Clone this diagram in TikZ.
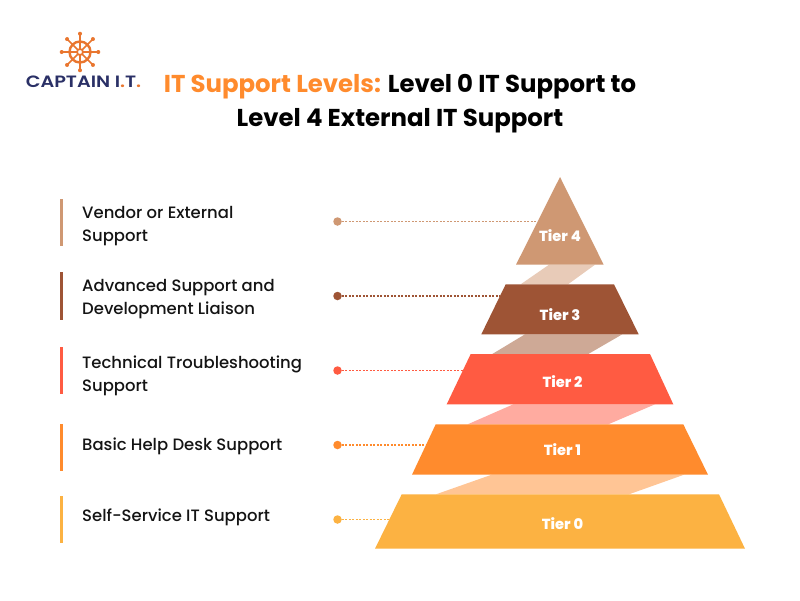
\documentclass[tikz,border=0pt]{standalone}
\usepackage{fontspec}
\setmainfont{Poppins}
\newfontfamily\pmed{Poppins Medium}
\newfontfamily\pbold{Poppins}[UprightFont=*-Bold]
\newfontfamily\pxbold{Poppins ExtraBold}
\newfontfamily\psemi{Poppins SemiBold}
\definecolor{cA}{HTML}{CF9873}
\definecolor{cB}{HTML}{9E5435}
\definecolor{cC}{HTML}{FF5B42}
\definecolor{cD}{HTML}{FF8B2D}
\definecolor{cE}{HTML}{FCB242}
\definecolor{bA}{HTML}{E8CBB8}
\definecolor{bB}{HTML}{CEA996}
\definecolor{bC}{HTML}{FFABA0}
\definecolor{bD}{HTML}{FFC595}
\definecolor{navy}{HTML}{2A3066}
\definecolor{wheel}{HTML}{E9762F}
\definecolor{titleor}{HTML}{FF8B2D}
\tikzset{
 lab/.style={anchor=west,align=left,inner sep=0pt,font=\pmed\fontsize{16.45}{23.5}\selectfont,text=black!92},
 tier/.style={font=\pxbold\fontsize{14.6}{16}\selectfont,text=white,inner sep=0pt},
 enddot/.style={circle,inner sep=0pt,minimum size=8.5pt},
 leader/.style={line width=1.4pt,dash pattern=on 1.6pt off 1.9pt},
 ttl/.style={font=\pbold\fontsize{24.4}{33}\selectfont,inner sep=0pt}
}
\begin{document}
\begin{tikzpicture}[x=1pt,y=-1pt]
\useasboundingbox (0,0) rectangle (800,600);
\fill[white] (0,0) rectangle (800,600);
% bands
\fill[bA] (549,264.7) -- (595,264.7) -- (568,284.3) -- (520.7,284.3) -- cycle;
\fill[bB] (525,334.3) -- (622.3,334.3) -- (588.3,354) -- (492.3,354) -- cycle;
\fill[bC] (513.3,404.3) -- (655,404.3) -- (608.3,424.3) -- (467.7,424.3) -- cycle;
\fill[bD] (491.7,474.7) -- (684,474.7) -- (629,494.3) -- (436,494.3) -- cycle;
% tiers
\fill[cA] (560,177) -- (603.7,264.7) -- (516,264.7) -- cycle;
\fill[cB] (505.7,284.3) -- (614,284.3) -- (638.7,334.3) -- (481.3,334.3) -- cycle;
\fill[cC] (470.7,354) -- (650,354) -- (673.3,404.3) -- (446.7,404.3) -- cycle;
\fill[cD] (435.7,424.3) -- (683.3,424.3) -- (708,474.7) -- (412,474.7) -- cycle;
\fill[cE] (401.7,494.3) -- (719,494.3) -- (745,548.7) -- (375,548.7) -- cycle;
\node[tier] (t4) at (560,235.5) {Tier 4};
\node[tier] (t3) at (560,314.5) {Tier 3};
\node[tier] (t2) at (562.5,381.5) {Tier 2};
\node[tier] (t1) at (562.5,449.5) {Tier 1};
\node[tier] (t0) at (562.5,523.5) {Tier 0};
% leader ends
\coordinate (e4) at (537,221.5);
\coordinate (e3) at (500,296);
\coordinate (e2) at (463,370.5);
\coordinate (e1) at (426,445);
\coordinate (e0) at (389,519.5);
\node[enddot,fill=cA] (d4) at (337.5,221.5) {};
\node[enddot,fill=cB] (d3) at (337.5,296) {};
\node[enddot,fill=cC] (d2) at (337.5,370.5) {};
\node[enddot,fill=cD] (d1) at (337.5,445) {};
\node[enddot,fill=cE] (d0) at (337.5,519.5) {};
\draw[leader,cA] (d4) -- (e4);
\draw[leader,cB] (d3) -- (e3);
\draw[leader,cC] (d2) -- (e2);
\draw[leader,cD] (d1) -- (e1);
\draw[leader,cE] (d0) -- (e0);
% bars
\fill[cA] (60,199) rectangle (63,246);
\fill[cB] (60,272) rectangle (63,320);
\fill[cC] (60,347) rectangle (63,394);
\fill[cD] (60,424) rectangle (63,471);
\fill[cE] (60,496) rectangle (63,543);
% labels
\node[lab] (l4) at (82,226) {Vendor or External\\Support};
\node[lab] (l3) at (82,299) {Advanced Support and\\Development Liaison};
\node[lab] (l2) at (82,376) {Technical Troubleshooting\\Support};
\node[lab] (l1) at (82,446) {Basic Help Desk Support};
\node[lab] (l0) at (82,517) {Self-Service IT Support};
% title
\node[ttl] (ti1) at (400,87) {\textcolor{titleor}{IT Support Levels:} Level 0 IT Support to};
\node[ttl] (ti2) at (400,121) {Level 4 External IT Support};
% logo
\begin{scope}[shift={(80,52)},wheel,line width=1.6pt]
\draw[line width=2.4pt] (0,0) circle (10.5);
\draw[line width=1.8pt] (0,0) circle (3);
\foreach \a in {0,45,...,315}{
  \draw (\a:3) -- (\a:18);
  \fill (\a:18.3) circle (2);
}
\end{scope}
\node[inner sep=0pt,xscale=1.17,transform shape,font=\psemi\fontsize{16.4}{18}\selectfont,text=navy] (logo) at (83.5,81.5) {CAPTAIN I\textcolor{wheel}{.}T\textcolor{wheel}{.}};
\end{tikzpicture}
\end{document}
